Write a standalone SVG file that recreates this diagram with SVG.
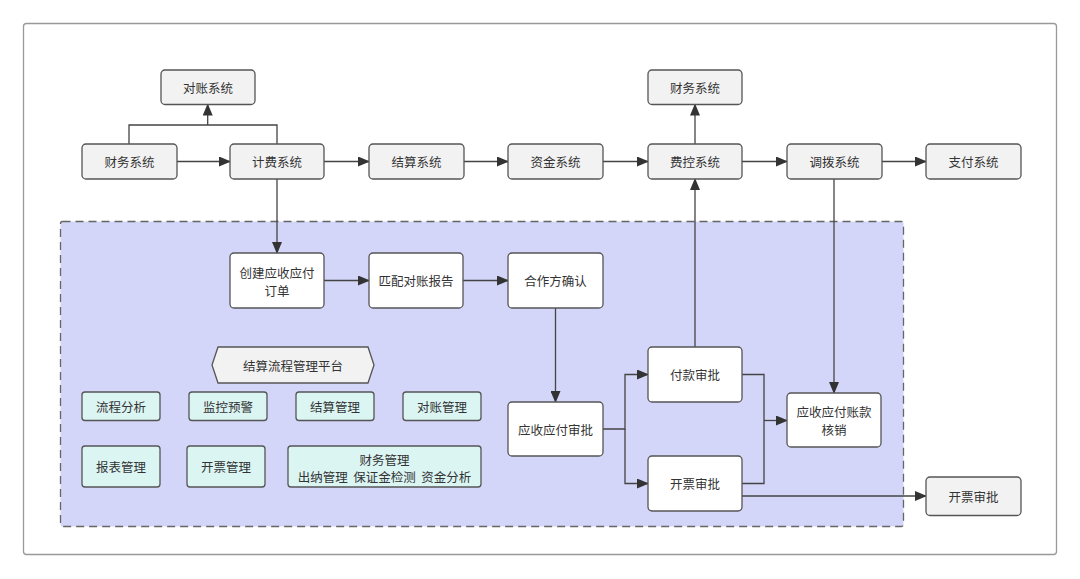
<svg xmlns="http://www.w3.org/2000/svg" width="1080" height="579" viewBox="0 0 1080 579">
<defs>
<marker id="ah" markerWidth="12" markerHeight="10" refX="11" refY="5" orient="auto" markerUnits="userSpaceOnUse">
<path d="M0,0 L12,5 L0,10 Z" fill="#333"/>
</marker>
<style>
text{font-family:"Noto Sans CJK SC","Noto Sans",sans-serif;font-size:12.5px;fill:#333;text-anchor:middle;dominant-baseline:central;white-space:pre}
.g{fill:#f2f2f2;stroke:#555;stroke-width:1.3}
.w{fill:#fff;stroke:#555;stroke-width:1.3}
.c{fill:#dbf5f3;stroke:#555;stroke-width:1.3}
.e{fill:none;stroke:#444;stroke-width:1.3}
</style>
</defs>
<rect width="1080" height="579" fill="#fff"/>
<rect x="23.5" y="23.5" width="1033" height="531" rx="3" fill="#fff" stroke="#999" stroke-width="1.3"/>
<rect id="region" x="60.5" y="221.5" width="843" height="305" rx="2" fill="#d3d6f8" stroke="#666" stroke-width="1.3" stroke-dasharray="8,5"/>

<g id="connectors">
<path class="e" d="M129,144 V125 H277 V144"/>
<path class="e" d="M207.7,125 V104.5" marker-end="url(#ah)"/>
<path class="e" d="M177,161.5 H230" marker-end="url(#ah)"/>
<path class="e" d="M324,161.5 H369" marker-end="url(#ah)"/>
<path class="e" d="M464,161.5 H508" marker-end="url(#ah)"/>
<path class="e" d="M603,161.5 H648" marker-end="url(#ah)"/>
<path class="e" d="M742,161.5 H787" marker-end="url(#ah)"/>
<path class="e" d="M882,161.5 H926" marker-end="url(#ah)"/>
<path class="e" d="M695,144 V104.5" marker-end="url(#ah)"/>
<path class="e" d="M277,179 V253" marker-end="url(#ah)"/>
<path class="e" d="M324,280.5 H369" marker-end="url(#ah)"/>
<path class="e" d="M463,280.5 H508" marker-end="url(#ah)"/>
<path class="e" d="M555.5,308 V402" marker-end="url(#ah)"/>
<path class="e" d="M603,429 H625 V374.5 H648" marker-end="url(#ah)"/>
<path class="e" d="M625,429 V483.5 H648" marker-end="url(#ah)"/>
<path class="e" d="M742,374.5 H764 V483.5 H742"/>
<path class="e" d="M764,420.5 H787" marker-end="url(#ah)"/>
<path class="e" d="M695,347 V179" marker-end="url(#ah)"/>
<path class="e" d="M834,179 V393" marker-end="url(#ah)"/>
<path class="e" d="M742,496 H926" marker-end="url(#ah)"/>
</g>

<g id="n-duizhang"><rect class="g" x="161" y="70" width="94" height="34.5" rx="4"/><text x="208" y="87.3">对账系统</text></g>
<g id="n-caiwu2"><rect class="g" x="648" y="70" width="94" height="34.5" rx="4"/><text x="695" y="87.3">财务系统</text></g>
<g id="n-caiwu"><rect class="g" x="82" y="144" width="95" height="35" rx="4"/><text x="129.5" y="161.5">财务系统</text></g>
<g id="n-jifei"><rect class="g" x="230" y="144" width="94" height="35" rx="4"/><text x="277" y="161.5">计费系统</text></g>
<g id="n-jiesuan"><rect class="g" x="369" y="144" width="95" height="35" rx="4"/><text x="416.5" y="161.5">结算系统</text></g>
<g id="n-zijin"><rect class="g" x="508" y="144" width="95" height="35" rx="4"/><text x="555.5" y="161.5">资金系统</text></g>
<g id="n-feikong"><rect class="g" x="648" y="144" width="94" height="35" rx="4"/><text x="695" y="161.5">费控系统</text></g>
<g id="n-diaobo"><rect class="g" x="787" y="144" width="95" height="35" rx="4"/><text x="834.5" y="161.5">调拨系统</text></g>
<g id="n-zhifu"><rect class="g" x="926" y="144" width="95" height="35" rx="4"/><text x="973.5" y="161.5">支付系统</text></g>

<g id="n-chuangjian"><rect class="w" x="230" y="253" width="94" height="55" rx="4"/><text x="277" y="272">创建应收应付</text><text x="277" y="290">订单</text></g>
<g id="n-pipei"><rect class="w" x="369" y="253" width="94" height="55" rx="4"/><text x="416" y="280.5">匹配对账报告</text></g>
<g id="n-hezuo"><rect class="w" x="508" y="253" width="95" height="55" rx="4"/><text x="555.5" y="280.5">合作方确认</text></g>
<g id="n-yingshou"><rect class="w" x="508" y="402" width="95" height="54" rx="4"/><text x="555.5" y="429">应收应付审批</text></g>
<g id="n-fukuan"><rect class="w" x="648" y="347" width="94" height="55" rx="4"/><text x="695" y="374.5">付款审批</text></g>
<g id="n-kaipiao"><rect class="w" x="648" y="456" width="94" height="55" rx="4"/><text x="695" y="483.5">开票审批</text></g>
<g id="n-hexiao"><rect class="w" x="787" y="393" width="94" height="54" rx="4"/><text x="834" y="411">应收应付账款</text><text x="834" y="429">核销</text></g>
<g id="n-kaipiao2"><rect class="g" x="926" y="477" width="95" height="38.5" rx="4"/><text x="973.5" y="496">开票审批</text></g>

<g id="n-platform"><path d="M218,347 H368 L374,365 L368,383 H218 L212,365 Z" fill="#f2f2f2" stroke="#555" stroke-width="1.3"/><text x="293" y="365">结算流程管理平台</text></g>
<g id="n-liucheng"><rect class="c" x="82" y="392" width="78" height="28.5" rx="3"/><text x="121" y="406">流程分析</text></g>
<g id="n-jiankong"><rect class="c" x="189" y="392" width="78" height="28.5" rx="3"/><text x="228" y="406">监控预警</text></g>
<g id="n-jsgl"><rect class="c" x="296" y="392" width="78" height="28.5" rx="3"/><text x="335" y="406">结算管理</text></g>
<g id="n-dzgl"><rect class="c" x="403" y="392" width="78" height="28.5" rx="3"/><text x="442" y="406">对账管理</text></g>
<g id="n-baobiao"><rect class="c" x="82" y="446" width="78" height="41" rx="3"/><text x="121" y="466.5">报表管理</text></g>
<g id="n-kpgl"><rect class="c" x="187" y="446" width="78" height="41" rx="3"/><text x="226" y="466.5">开票管理</text></g>
<g id="n-cwgl"><rect class="c" x="288" y="446" width="193" height="41" rx="3"/><text x="384.5" y="459">财务管理</text><text x="384.5" y="476" xml:space="preserve">出纳管理  保证金检测  资金分析</text></g>
</svg>
